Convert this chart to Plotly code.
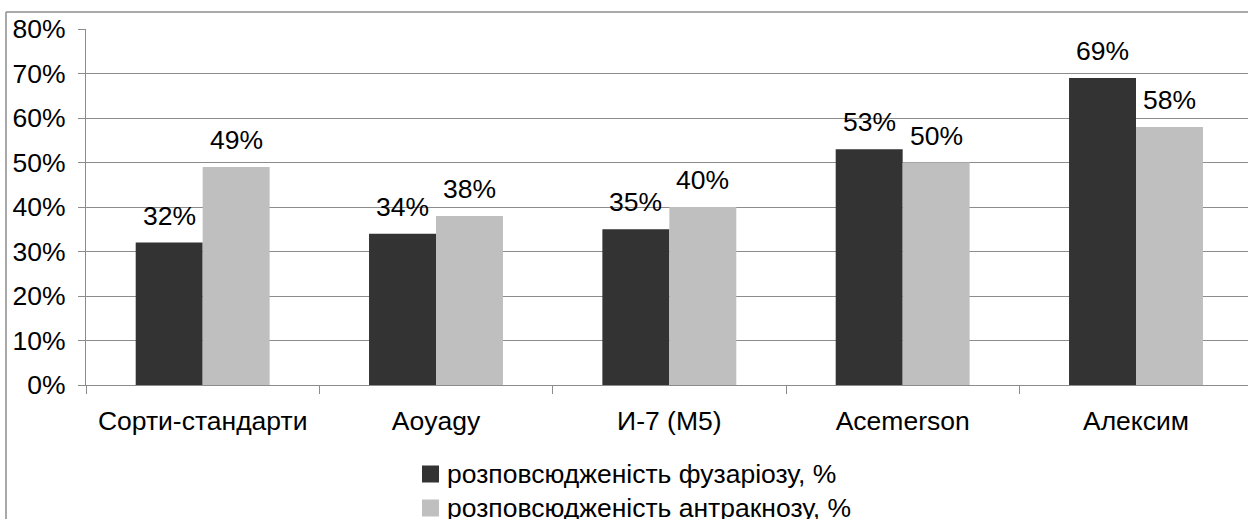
import plotly.graph_objects as go

# Varieties and disease prevalence (fraction of plants affected)
varieties = ["Сорти-стандарти", "Aoyagy", "И-7 (M5)", "Acemerson", "Алексим"]
fusarium = [0.32, 0.34, 0.35, 0.53, 0.69]
anthracnose = [0.49, 0.38, 0.40, 0.50, 0.58]
series_names = ["розповсюдженість фузаріозу, %", "розповсюдженість антракнозу, %"]
y_ticks = [0, 0.1, 0.2, 0.3, 0.4, 0.5, 0.6, 0.7, 0.8]

W, H = 1248, 519
ML, MR, MT, MB = 86, 0, 29, 134
PW, PH = W - ML - MR, H - MT - MB

FONT = "Liberation Sans, Arial, sans-serif"
DARK, LIGHT, GRID = "#333333", "#bfbfbf", "#8c8c8c"
COLORS = [DARK, LIGHT]
FS = 26.5


def px_x(p):
    """page pixel column -> paper x"""
    return (p - ML) / PW


def px_y(p):
    """page pixel row -> paper y"""
    return (H - MB - p) / PH


fig = go.Figure()
for vals, name, color in zip((fusarium, anthracnose), series_names, COLORS):
    fig.add_trace(go.Bar(x=varieties, y=vals, name=name, showlegend=False,
                         marker=dict(color=color, line=dict(width=0))))

# value labels above each bar
half = PW / 4.98 * (1 - 0.426) / 4
annotations = []
for vals, shift in ((fusarium, -half), (anthracnose, half)):
    for cat, v in zip(varieties, vals):
        annotations.append(dict(x=cat, y=v, xref="x", yref="y", text=f"{round(v * 100)}%",
                                showarrow=False, xshift=shift, yanchor="bottom", yshift=10,
                                font=dict(family=FONT, size=FS, color="#000")))

shapes = [
    # chart-area frame: top and left edges
    dict(type="line", xref="paper", yref="paper", x0=px_x(6), x1=px_x(W + 10),
         y0=px_y(12), y1=px_y(12), line=dict(color=GRID, width=1.5)),
    dict(type="line", xref="paper", yref="paper", x0=px_x(6), x1=px_x(6),
         y0=px_y(12), y1=px_y(H + 10), line=dict(color=GRID, width=1.5)),
]

# legend below the axis: swatch + series name per row
for i, (name, color) in enumerate(zip(series_names, COLORS)):
    cy = 474 + 34 * i
    shapes.append(dict(type="rect", xref="paper", yref="paper",
                       x0=px_x(422), x1=px_x(439), y0=px_y(cy - 8.5), y1=px_y(cy + 8.5),
                       fillcolor=color, line=dict(width=0)))
    annotations.append(dict(xref="paper", yref="paper", x=px_x(445), y=px_y(cy),
                            xanchor="left", yanchor="middle", text=name, showarrow=False,
                            font=dict(family=FONT, size=FS, color="#000")))

fig.update_layout(
    width=W, height=H,
    margin=dict(l=ML, r=MR, t=MT, b=MB, pad=0, autoexpand=False),
    paper_bgcolor="white", plot_bgcolor="white",
    barmode="group", bargap=0.426, bargroupgap=0,
    font=dict(family=FONT, size=FS, color="#000"),
    showlegend=False,
    annotations=annotations,
    shapes=shapes,
)
fig.update_xaxes(type="category", range=[-0.5, 4.48], showgrid=False,
                 showline=True, linecolor=GRID, linewidth=1.3,
                 ticks="outside", tickson="boundaries", ticklen=8, tickcolor=GRID,
                 tickwidth=1.3, ticklabelstandoff=12,
                 tickfont=dict(family=FONT, size=FS, color="#000"))
fig.update_yaxes(range=[0, 0.8], tickvals=y_ticks, tickformat=".0%",
                 showgrid=True, gridcolor=GRID, gridwidth=1.3,
                 showline=True, linecolor=GRID, linewidth=1.3,
                 ticks="outside", ticklen=7, tickcolor=GRID, tickwidth=1.3,
                 ticklabelstandoff=7, zeroline=False,
                 tickfont=dict(family=FONT, size=FS, color="#000"))

fig.write_html("out.html")
